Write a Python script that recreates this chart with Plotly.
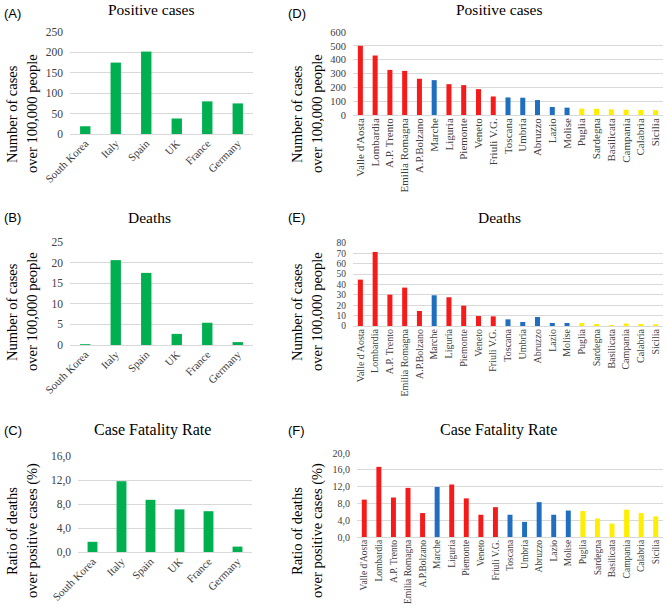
import plotly.graph_objects as go

countries = ["South Korea", "Italy", "Spain", "UK", "France", "Germany"]
country_positive = [19, 175, 202, 38, 80, 75]
country_deaths = [0.2, 20.6, 17.5, 2.7, 5.4, 0.7]
country_cfr = [1.7, 11.8, 8.7, 7.1, 6.8, 0.9]

regions = ["Valle d'Aosta", "Lombardia", "A.P. Trento", "Emilia Romagna", "A.P.Bolzano",
           "Marche", "Liguria", "Piemonte", "Veneto", "Friuli V.G.", "Toscana", "Umbria",
           "Abruzzo", "Lazio", "Molise", "Puglia", "Sardegna", "Basilicata", "Campania",
           "Calabria", "Sicilia"]
region_area = ["North", "North", "North", "North", "North", "Centre", "North", "North",
               "North", "North", "Centre", "Centre", "Centre", "Centre", "Centre",
               "South", "South", "South", "South", "South", "South"]
region_positive = [500, 430, 326, 319, 262, 252, 223, 216, 187, 134, 127, 125, 108, 58, 53,
                   46, 45, 41, 38, 36, 35]
region_deaths = [44.7, 71.4, 30.2, 37.0, 14.5, 29.6, 27.7, 19.6, 9.6, 9.3, 6.4, 3.9, 8.7,
                 2.9, 2.9, 2.8, 1.9, 1.0, 2.4, 1.9, 1.7]
region_cfr = [8.9, 16.7, 9.4, 11.7, 5.7, 11.9, 12.5, 9.2, 5.3, 7.1, 5.3, 3.6, 8.3, 5.3, 6.3,
              6.2, 4.4, 3.2, 6.5, 5.7, 4.9]

W, H = 667, 613
GREEN = "#00B050"
AREA_COLORS = {"North": "#F51B1B", "Centre": "#1F6EC0", "South": "#FFEE00"}
region_colors = [AREA_COLORS[a] for a in region_area]

SERIF = "Liberation Serif"
SANS = "Liberation Sans"

def px(x):
    return x / W

def py(y):
    return 1 - y / H

panels = [
    dict(cats=countries, vals=country_positive, color=GREEN, x=(70, 253), y=(32, 134), rng=[0, 250], dtick=50, fmt="d", angle=-45, xf=11, yf=11.5),
    dict(cats=countries, vals=country_deaths, color=GREEN, x=(70, 253), y=(242, 345), rng=[0, 25], dtick=5, fmt="d", angle=-45, xf=11, yf=11.5),
    dict(cats=countries, vals=country_cfr, color=GREEN, x=(78, 252), y=(456, 552), rng=[0, 16], dtick=4, fmt=".1f", angle=-45, xf=11, yf=11.5),
    dict(cats=regions, vals=region_positive, color=region_colors, x=(353, 663), y=(32, 115), rng=[0, 600], dtick=100, fmt="d", angle=-90, xf=11, yf=10.5),
    dict(cats=regions, vals=region_deaths, color=region_colors, x=(353, 663), y=(243, 326), rng=[0, 80], dtick=10, fmt="d", angle=-90, xf=10, yf=9.5),
    dict(cats=regions, vals=region_cfr, color=region_colors, x=(357, 663), y=(453, 537), rng=[0, 20], dtick=4, fmt=".1f", angle=-90, xf=9.5, yf=10),
]

fig = go.Figure()
layout = {}
for i, p in enumerate(panels):
    n = "" if i == 0 else str(i + 1)
    fig.add_trace(go.Bar(x=p["cats"], y=p["vals"], marker=dict(color=p["color"], line=dict(width=0)),
                         xaxis="x" + n, yaxis="y" + n, showlegend=False))
    layout["xaxis" + n] = dict(domain=[px(p["x"][0]), px(p["x"][1])], anchor="y" + n,
                               tickangle=p["angle"], showgrid=False, showline=False, ticks="",
                               tickfont=dict(family=SERIF, size=p["xf"], color="#404040"),
                               type="category", zeroline=False, automargin=False)
    layout["yaxis" + n] = dict(domain=[py(p["y"][1]), py(p["y"][0])], anchor="x" + n,
                               range=p["rng"], dtick=p["dtick"], tickformat=p["fmt"],
                               showgrid=True, gridcolor="#D9D9D9", gridwidth=1,
                               zeroline=True, zerolinecolor="#D9D9D9", zerolinewidth=1,
                               showline=False, ticks="", ticklabelstandoff=6, automargin=False,
                               tickfont=dict(family=SERIF, size=p["yf"], color="#404040"))

annotations = []
titles = [("Positive cases", 151, 10, 15.5), ("Deaths", 149, 217, 15.5), ("Case Fatality Rate", 152, 430, 16),
          ("Positive cases", 499, 10, 15.5), ("Deaths", 499, 217, 15.5), ("Case Fatality Rate", 498, 430, 16)]
for t, x, y, s in titles:
    annotations.append(dict(text=t, x=px(x), y=py(y), xref="paper", yref="paper",
                            xanchor="center", yanchor="middle", showarrow=False,
                            font=dict(family=SERIF, size=s, color="black")))
labels = [("(A)", 2, 13), ("(B)", 2, 217), ("(C)", 2, 430), ("(D)", 286, 13), ("(E)", 286, 217), ("(F)", 286, 430)]
for t, x, y in labels:
    annotations.append(dict(text=t, x=px(x), y=py(y), xref="paper", yref="paper",
                            xanchor="left", yanchor="middle", showarrow=False,
                            font=dict(family=SANS, size=13, color="black")))
ytitles = [("Number of cases", "over 100,000 people", 114), ("Number of cases", "over 100,000 people", 312),
           ("Ratio of deaths", "over positive cases (%)", 531)]
for l1, l2, yc in ytitles:
    for xoff in (0, 285):
        annotations.append(dict(text=l1, x=px(12 + xoff), y=py(yc), xref="paper", yref="paper",
                                xanchor="center", yanchor="middle", textangle=-90, showarrow=False,
                                font=dict(family=SERIF, size=14.5, color="black")))
        annotations.append(dict(text=l2, x=px(32 + xoff), y=py(yc), xref="paper", yref="paper",
                                xanchor="center", yanchor="middle", textangle=-90, showarrow=False,
                                font=dict(family=SERIF, size=14.5, color="black")))

fig.update_layout(**layout)
fig.update_layout(width=W, height=H, margin=dict(l=0, r=0, t=0, b=0, autoexpand=False),
                  paper_bgcolor="white", plot_bgcolor="white", bargap=0.66,
                  separators=",.", annotations=annotations, showlegend=False,
                  hovermode=False)
fig.write_html("out.html", config={"displayModeBar": False, "staticPlot": True},
               post_script="document.body.style.margin='0';document.body.style.overflow='hidden';")
